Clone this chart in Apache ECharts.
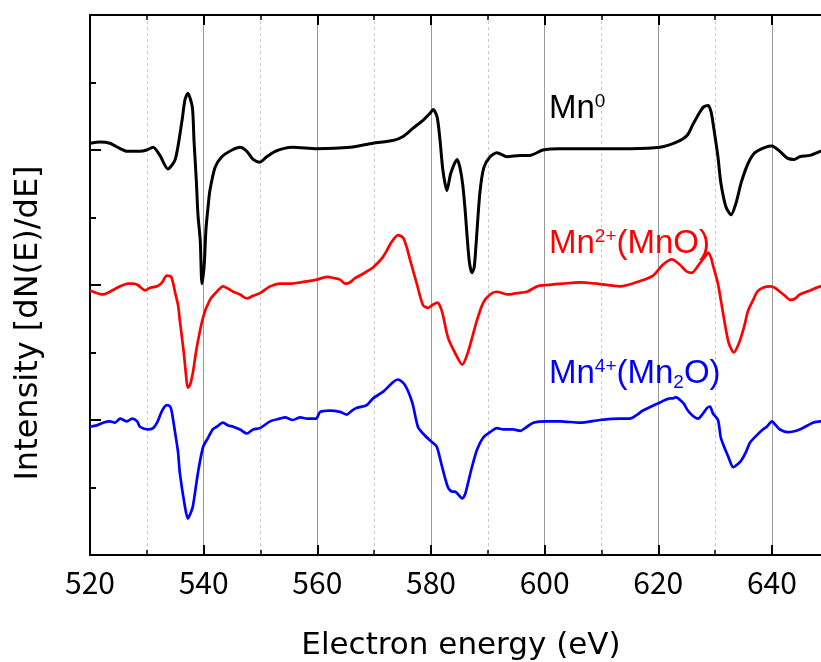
<!DOCTYPE html>
<html><head><meta charset="utf-8">
<script src="https://cdn.jsdelivr.net/npm/echarts@6/dist/echarts.min.js"></script>
<style>html,body{margin:0;padding:0;background:#fff;overflow:hidden;width:821px;height:662px}#c{width:900px;height:662px}</style>
</head><body><div id="c"></div>
<script>
// Electron energy (eV) and intensity (offset, arbitrary units)
const energyMn0 = [520.0,521.8,523.5,525.3,526.5,528.8,530.0,531.1,532.3,533.7,535.0,536.2,536.7,537.2,538.0,538.3,538.7,539.0,539.4,539.7,540.1,540.4,540.8,541.1,542.0,543.2,545.0,546.4,547.6,548.7,549.9,551.1,552.6,554.0,555.7,559.9,565.8,569.8,573.3,575.1,576.8,578.6,579.8,580.4,581.1,581.6,582.1,582.8,583.5,584.6,585.1,585.6,586.0,586.7,587.2,587.6,587.9,588.6,589.3,590.4,591.6,593.4,595.7,597.4,599.7,602.7,609.7,615.0,620.3,623.3,625.1,626.1,627.3,628.0,628.8,629.3,629.7,630.5,631.0,631.9,632.8,633.7,634.6,635.8,637.0,638.8,640.0,641.4,642.7,643.9,644.9,646.7,648.5,650.0];
const intensityMn0 = [3.05,3.06,3.05,3.01,2.99,2.99,3.00,3.02,2.96,2.86,2.93,3.22,3.37,3.42,3.32,3.07,2.78,2.52,2.33,2.01,2.15,2.41,2.59,2.70,2.87,2.95,3.00,3.02,2.99,2.93,2.91,2.95,2.99,3.01,3.02,3.01,3.02,3.05,3.07,3.10,3.16,3.22,3.27,3.30,3.24,3.07,2.85,2.70,2.83,2.93,2.87,2.74,2.56,2.19,2.09,2.13,2.28,2.68,2.87,2.95,2.98,2.95,2.96,2.96,3.00,3.01,3.01,3.01,3.02,3.06,3.11,3.19,3.28,3.32,3.33,3.28,3.18,2.95,2.76,2.58,2.52,2.61,2.76,2.90,2.98,3.02,3.03,2.99,2.94,2.93,2.95,2.96,2.99,3.00];

const energyMnO = [520.0,522.3,523.5,525.3,526.7,527.6,528.4,529.7,530.6,531.8,532.7,533.5,534.3,535.0,535.5,535.8,536.5,536.9,537.2,537.6,538.1,538.8,539.9,541.1,542.3,543.4,545.2,546.4,547.6,548.7,549.9,551.7,553.4,555.2,557.0,558.7,559.9,561.7,563.1,564.0,564.9,565.8,566.6,567.5,568.7,569.8,571.6,573.1,574.2,575.1,575.8,576.3,577.5,578.6,579.5,580.2,581.1,581.9,583.0,584.2,585.5,586.5,588.1,589.2,590.4,591.6,593.4,595.1,596.9,598.7,600.4,603.2,606.2,609.2,613.3,616.8,619.1,620.8,622.4,623.8,625.0,625.9,627.3,628.4,628.8,629.3,629.6,630.5,631.0,631.6,632.4,633.3,634.2,635.1,635.8,636.7,637.4,638.4,639.7,640.5,641.4,642.3,643.2,644.1,644.9,646.7,648.5,650.0];
const intensityMnO = [1.96,1.93,1.95,1.99,2.01,2.01,2.00,1.96,1.98,1.99,2.02,2.07,2.06,1.94,1.85,1.74,1.50,1.33,1.24,1.26,1.35,1.54,1.76,1.89,1.95,1.99,1.95,1.93,1.90,1.92,1.94,1.99,2.01,2.01,2.02,2.03,2.04,2.06,2.05,2.04,2.01,2.02,2.05,2.07,2.10,2.13,2.21,2.32,2.37,2.35,2.27,2.19,2.01,1.85,1.83,1.85,1.87,1.81,1.61,1.50,1.41,1.50,1.74,1.87,1.93,1.95,1.93,1.94,1.95,1.99,2.00,2.01,2.02,2.01,1.99,2.03,2.07,2.15,2.19,2.15,2.10,2.09,2.16,2.22,2.24,2.20,2.15,2.01,1.89,1.74,1.57,1.50,1.57,1.69,1.81,1.89,1.95,1.98,1.99,1.98,1.95,1.92,1.89,1.90,1.93,1.96,1.99,2.00];

const energyMn2O = [520.0,521.2,522.3,523.5,524.4,525.3,526.5,527.4,528.3,528.8,530.2,531.1,531.8,532.7,533.5,534.1,534.4,535.0,535.5,535.8,536.7,537.2,537.6,538.1,539.0,539.9,540.8,541.6,542.3,543.4,544.3,545.2,546.4,547.6,548.7,549.9,551.7,553.4,554.3,555.7,557.0,558.2,559.2,559.8,560.5,562.2,564.0,565.2,566.1,567.0,568.7,569.8,571.6,573.3,574.2,575.4,576.7,577.7,578.6,579.8,580.9,581.2,582.1,583.0,583.7,584.2,585.5,586.0,586.5,587.2,588.1,589.2,590.4,591.6,592.7,593.6,594.4,595.7,596.9,598.0,600.4,602.7,606.2,609.7,613.3,615.0,616.3,617.3,620.3,622.1,622.6,623.1,623.8,624.5,625.2,626.1,627.0,627.9,628.6,629.1,629.6,630.5,631.0,631.6,632.3,633.2,633.9,634.6,635.4,636.1,637.4,638.4,639.1,640.0,640.7,641.4,642.8,644.9,647.2,648.5,650.0];
const intensityMn2O = [0.95,0.96,0.98,0.99,0.98,1.01,0.99,1.01,0.99,0.95,0.93,0.94,0.98,1.07,1.11,1.10,1.06,0.90,0.76,0.61,0.36,0.27,0.30,0.36,0.61,0.80,0.87,0.93,0.95,0.98,0.96,0.95,0.93,0.90,0.93,0.94,0.99,1.01,1.02,1.00,1.02,1.01,1.01,1.01,1.06,1.07,1.06,1.04,1.07,1.09,1.11,1.16,1.21,1.28,1.30,1.26,1.13,0.95,0.90,0.85,0.81,0.78,0.63,0.50,0.47,0.47,0.42,0.45,0.53,0.65,0.78,0.87,0.91,0.94,0.93,0.93,0.93,0.92,0.95,0.98,0.99,0.99,0.98,1.00,1.01,1.01,1.04,1.07,1.13,1.16,1.16,1.17,1.15,1.12,1.07,1.03,1.01,1.05,1.09,1.10,1.05,1.00,0.87,0.80,0.73,0.65,0.67,0.70,0.76,0.83,0.89,0.93,0.95,0.99,0.96,0.93,0.91,0.93,0.98,0.99,1.00];

const xTickInterval = 20;
const xMin = 520, xMax = 660;
const yMin = 0, yMax = 4, yTickInterval = 1;
const xAxisName = 'Electron energy (eV)';
const yAxisName = 'Intensity [dN(E)/dE]';

const zip = (xs, ys) => xs.map((v, i) => [v, ys[i]]);
const FONT = '"Noto Sans CJK JP", "Noto Sans", sans-serif';
const NFONT = '"DejaVu Sans", sans-serif';
const LFONT = '"Liberation Sans", Arial, sans-serif';

const chart = echarts.init(document.getElementById('c'), null, {renderer: 'canvas'});
const axisCommon = {
  type: 'value', min: xMin, max: xMax, interval: xTickInterval,
  axisLine: {show: true, lineStyle: {color: '#000', width: 2}},
  axisTick: {show: true, inside: true, length: 10, lineStyle: {color: '#000', width: 2}},
  minorTick: {show: true, splitNumber: 2, length: 5, lineStyle: {color: '#000', width: 1.5}},
};
function label(text, color, y) {
  const f = {fontFamily: LFONT, fill: color, verticalAlign: 'top'};
  return {type: 'text', x: 549, y: y, z: 10,
    style: {text: text, fill: color, rich: {
      m: Object.assign({fontSize: 33, lineHeight: 36}, f),
      p: Object.assign({fontSize: 19, lineHeight: 19}, f),
      b: Object.assign({fontSize: 19, lineHeight: 19, padding: [16, 0, 0, 0]}, f)
    }}};
}
chart.setOption({
  animation: false,
  backgroundColor: '#fff',
  grid: {left: 90, top: 15, width: 795.6, height: 540, containLabel: false},
  xAxis: [
    Object.assign({}, axisCommon, {
      position: 'bottom',
      axisLabel: {show: true, fontSize: 30, color: '#000', fontFamily: FONT, margin: 13, showMaxLabel: false},
      splitLine: {show: true, lineStyle: {color: '#999', width: 1}},
      minorSplitLine: {show: true, lineStyle: {color: '#c8c8c8', width: 1, type: [3, 3]}}
    }),
    Object.assign({}, axisCommon, {
      position: 'top',
      axisLabel: {show: false},
      splitLine: {show: false}
    })
  ],
  yAxis: {
    type: 'value', min: yMin, max: yMax, interval: yTickInterval,
    axisLine: {show: true, lineStyle: {color: '#000', width: 2}},
    axisTick: {show: true, inside: true, length: 11, lineStyle: {color: '#000', width: 2}},
    minorTick: {show: true, splitNumber: 2, length: 6, lineStyle: {color: '#000', width: 2}},
    axisLabel: {show: false},
    splitLine: {show: false}
  },
  series: [
    {name: 'Mn0', type: 'line', data: zip(energyMn0, intensityMn0), showSymbol: false, smooth: 0.25,
     lineStyle: {color: '#000', width: 3}, itemStyle: {color: '#000'}, z: 4},
    {name: 'MnO', type: 'line', data: zip(energyMnO, intensityMnO), showSymbol: false, smooth: 0.25,
     lineStyle: {color: '#ff0000', width: 2.7}, itemStyle: {color: '#ff0000'}, z: 3},
    {name: 'Mn2O', type: 'line', data: zip(energyMn2O, intensityMn2O), showSymbol: false, smooth: 0.25,
     lineStyle: {color: '#0000ff', width: 2.7}, itemStyle: {color: '#0000ff'}, z: 3}
  ],
  graphic: [
    {type: 'text', x: 461, y: 646, z: 10,
     style: {text: xAxisName, font: '31px ' + NFONT, fill: '#000', align: 'center', verticalAlign: 'middle'}},
    {type: 'text', x: 29, y: 323, rotation: Math.PI / 2, z: 10,
     style: {text: yAxisName, font: '32px ' + NFONT, fill: '#000', align: 'center', verticalAlign: 'middle'}},
    label('{m|Mn}{p|0}', '#000', 92),
    label('{m|Mn}{p|2+}{m|(MnO)}', '#ff0000', 227),
    label('{m|Mn}{p|4+}{m|(Mn}{b|2}{m|O)}', '#0000ff', 357)
  ]
});
</script>
</body></html>
